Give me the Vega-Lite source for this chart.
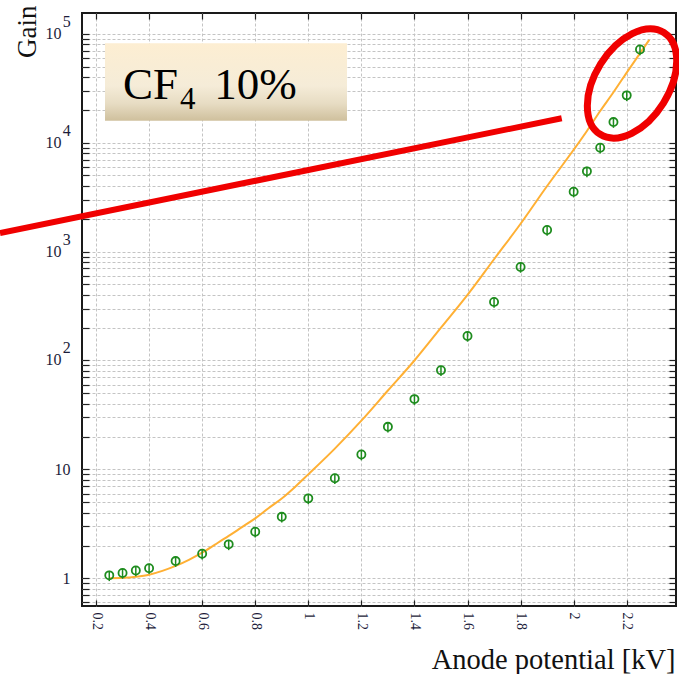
{
  "$schema": "https://vega.github.io/schema/vega-lite/v6.json",
  "width": 594,
  "height": 593,
  "autosize": "none",
  "padding": {"left": 82, "top": 13, "right": 3, "bottom": 68},
  "background": "white",
  "config": {
    "font": "Liberation Serif",
    "view": {"stroke": "#1a1a1a", "strokeWidth": 2},
    "axis": {"labelFont": "Liberation Serif", "titleFont": "Liberation Serif", "titleFontWeight": "normal", "labelColor": "#1c1c3a", "titleColor": "#111111"}
  },
  "datasets": {
    "fit": [
      {"kv": 0.25, "gain": 1.0}, {"kv": 0.3, "gain": 1.01}, {"kv": 0.35, "gain": 1.035}, {"kv": 0.4, "gain": 1.08},
      {"kv": 0.45, "gain": 1.17}, {"kv": 0.5, "gain": 1.3}, {"kv": 0.55, "gain": 1.48}, {"kv": 0.6, "gain": 1.72},
      {"kv": 0.65, "gain": 2.05}, {"kv": 0.7, "gain": 2.45}, {"kv": 0.75, "gain": 2.95}, {"kv": 0.8, "gain": 3.55},
      {"kv": 0.85, "gain": 4.4}, {"kv": 0.9, "gain": 5.4}, {"kv": 0.95, "gain": 6.9}, {"kv": 1.0, "gain": 9.0},
      {"kv": 1.1, "gain": 15.5}, {"kv": 1.2, "gain": 28}, {"kv": 1.3, "gain": 53}, {"kv": 1.4, "gain": 100},
      {"kv": 1.5, "gain": 200}, {"kv": 1.6, "gain": 400}, {"kv": 1.7, "gain": 850}, {"kv": 1.8, "gain": 1800},
      {"kv": 1.9, "gain": 4000}, {"kv": 2.0, "gain": 8600}, {"kv": 2.05, "gain": 12800}, {"kv": 2.1, "gain": 19500},
      {"kv": 2.15, "gain": 29000}, {"kv": 2.2, "gain": 44000}, {"kv": 2.285, "gain": 88000}
    ],
    "measured": [
      {"kv": 0.25, "gain": 1.065, "lo": 0.943, "hi": 1.172},
      {"kv": 0.3, "gain": 1.12, "lo": 0.991, "hi": 1.232},
      {"kv": 0.35, "gain": 1.18, "lo": 1.044, "hi": 1.298},
      {"kv": 0.4, "gain": 1.24, "lo": 1.097, "hi": 1.364},
      {"kv": 0.5, "gain": 1.44, "lo": 1.274, "hi": 1.584},
      {"kv": 0.6, "gain": 1.68, "lo": 1.487, "hi": 1.848},
      {"kv": 0.7, "gain": 2.05, "lo": 1.814, "hi": 2.255},
      {"kv": 0.8, "gain": 2.68, "lo": 2.372, "hi": 2.948},
      {"kv": 0.9, "gain": 3.67, "lo": 3.248, "hi": 4.037},
      {"kv": 1.0, "gain": 5.42, "lo": 4.797, "hi": 5.962},
      {"kv": 1.1, "gain": 8.3, "lo": 7.346, "hi": 9.13},
      {"kv": 1.2, "gain": 13.7, "lo": 12.12, "hi": 15.07},
      {"kv": 1.3, "gain": 24.6, "lo": 21.77, "hi": 27.06},
      {"kv": 1.4, "gain": 44.2, "lo": 39.12, "hi": 48.62},
      {"kv": 1.5, "gain": 81.5, "lo": 72.13, "hi": 89.65},
      {"kv": 1.6, "gain": 168, "lo": 148.7, "hi": 184.8},
      {"kv": 1.7, "gain": 345, "lo": 305.3, "hi": 379.5},
      {"kv": 1.8, "gain": 722, "lo": 639, "hi": 794},
      {"kv": 1.9, "gain": 1578, "lo": 1397, "hi": 1736},
      {"kv": 2.0, "gain": 3550, "lo": 3142, "hi": 3905},
      {"kv": 2.05, "gain": 5450, "lo": 4823, "hi": 5995},
      {"kv": 2.1, "gain": 8990, "lo": 7956, "hi": 9889},
      {"kv": 2.15, "gain": 15450, "lo": 13670, "hi": 17000},
      {"kv": 2.2, "gain": 27170, "lo": 24050, "hi": 29890},
      {"kv": 2.25, "gain": 71800, "lo": 63540, "hi": 78980}
    ],
    "decades": [
      {"gain": 100, "exp": "2"}, {"gain": 1000, "exp": "3"}, {"gain": 10000, "exp": "4"}, {"gain": 100000, "exp": "5"}
    ],
    "labelBox": [
      {"kv": 0.2339, "kv2": 1.1458, "gain": 81800, "gain2": 15920}
    ],
    "labelMain": [
      {"kv": 0.3018, "gain": 25180, "text": "CF"},
      {"kv": 0.6455, "gain": 25180, "text": "10%"}
    ],
    "labelSub": [
      {"kv": 0.5166, "gain": 20390, "text": "4"}
    ],
    "pointer": [
      {"kv": -0.1618, "gain": 1482, "kv2": 1.955, "gain2": 16750}
    ],
    "highlight": [
      {"kv": 2.22, "gain": 34960}
    ]
  },
  "resolve": {"axis": {"x": "independent", "y": "independent"}},
  "layer": [
    {
      "data": {"name": "fit"},
      "mark": {"type": "line", "color": "#ffb034", "strokeWidth": 2, "interpolate": "monotone"},
      "encoding": {
        "x": {
          "field": "kv", "type": "quantitative",
          "scale": {"domain": [0.1472, 2.3857], "nice": false, "zero": false},
          "axis": {
            "orient": "bottom",
            "values": [0.2, 0.4, 0.6, 0.8, 1.0, 1.2, 1.4, 1.6, 1.8, 2.0, 2.2],
            "format": "~g",
            "labelAngle": 90, "labelAlign": "left", "labelBaseline": "middle",
            "labelFontSize": 14, "labelPadding": 12,
            "tickSize": -6, "tickColor": "#222222", "tickWidth": 1.2,
            "grid": true, "gridColor": "#c4c4c4", "gridDash": [3, 2], "gridWidth": 1,
            "domain": false,
            "title": "Anode potential [kV]", "titleFontSize": 28.5,
            "titleAnchor": "end", "titleAlign": "right", "titleBaseline": "alphabetic",
            "titleX": 593, "titleY": 62
          }
        },
        "y": {
          "field": "gain", "type": "quantitative",
          "scale": {"type": "log", "domain": [0.557, 155000], "nice": false},
          "axis": {
            "orient": "left",
            "values": [0.6, 0.7, 0.8, 0.9, 1, 2, 3, 4, 5, 6, 7, 8, 9, 10, 20, 30, 40, 50, 60, 70, 80, 90, 100, 200, 300, 400, 500, 600, 700, 800, 900, 1000, 2000, 3000, 4000, 5000, 6000, 7000, 8000, 9000, 10000, 20000, 30000, 40000, 50000, 60000, 70000, 80000, 90000, 100000],
            "labelExpr": "datum.value == 1 ? '1' : datum.value == 10 ? '10' : ''",
            "labelFontSize": 16, "labelPadding": 19, "labelBaseline": "middle",
            "tickSize": -7, "tickColor": "#222222", "tickWidth": 1.2,
            "grid": true, "gridColor": "#c4c4c4", "gridDash": [3, 2], "gridWidth": 1,
            "domain": false,
            "title": "Gain", "titleFontSize": 27, "titleAngle": -90,
            "titleAlign": "right", "titleBaseline": "alphabetic",
            "titleX": -47, "titleY": -8
          }
        }
      }
    },
    {
      "data": {"name": "measured"},
      "mark": {"type": "rule", "color": "#1e8c1e", "strokeWidth": 1.5},
      "encoding": {
        "x": {"field": "kv", "type": "quantitative", "scale": {"domain": [0.1472, 2.3857], "nice": false, "zero": false}, "axis": null},
        "y": {"field": "lo", "type": "quantitative", "scale": {"type": "log", "domain": [0.557, 155000], "nice": false}, "axis": null},
        "y2": {"field": "hi"}
      }
    },
    {
      "data": {"name": "measured"},
      "mark": {"type": "point", "shape": "circle", "filled": false, "color": "#1e8c1e", "strokeWidth": 1.8, "size": 66, "opacity": 1},
      "encoding": {
        "x": {
          "field": "kv", "type": "quantitative",
          "scale": {"domain": [0.1472, 2.3857], "nice": false, "zero": false},
          "axis": {
            "orient": "top",
            "values": [0.2, 0.4, 0.6, 0.8, 1.0, 1.2, 1.4, 1.6, 1.8, 2.0, 2.2],
            "labels": false, "grid": false, "domain": false,
            "tickSize": -6, "tickColor": "#222222", "tickWidth": 1.2, "title": null
          }
        },
        "y": {
          "field": "gain", "type": "quantitative",
          "scale": {"type": "log", "domain": [0.557, 155000], "nice": false},
          "axis": {
            "orient": "right",
            "values": [0.6, 0.7, 0.8, 0.9, 1, 2, 3, 4, 5, 6, 7, 8, 9, 10, 20, 30, 40, 50, 60, 70, 80, 90, 100, 200, 300, 400, 500, 600, 700, 800, 900, 1000, 2000, 3000, 4000, 5000, 6000, 7000, 8000, 9000, 10000, 20000, 30000, 40000, 50000, 60000, 70000, 80000, 90000, 100000],
            "labels": false, "grid": false, "domain": false,
            "tickSize": -7, "tickColor": "#222222", "tickWidth": 1.2, "title": null
          }
        }
      }
    },
    {
      "data": {"name": "decades"},
      "mark": {"type": "text", "text": "10", "align": "right", "baseline": "middle", "dx": -20.5, "fontSize": 16, "color": "#1c1c3a", "clip": false},
      "encoding": {
        "x": {"datum": 0.1472, "type": "quantitative", "scale": {"domain": [0.1472, 2.3857], "nice": false, "zero": false}, "axis": null},
        "y": {"field": "gain", "type": "quantitative", "scale": {"type": "log", "domain": [0.557, 155000], "nice": false}, "axis": null}
      }
    },
    {
      "data": {"name": "decades"},
      "mark": {"type": "text", "align": "right", "baseline": "middle", "dx": -11.3, "dy": -12, "fontSize": 16, "color": "#1c1c3a", "clip": false},
      "encoding": {
        "x": {"datum": 0.1472, "type": "quantitative", "scale": {"domain": [0.1472, 2.3857], "nice": false, "zero": false}, "axis": null},
        "y": {"field": "gain", "type": "quantitative", "scale": {"type": "log", "domain": [0.557, 155000], "nice": false}, "axis": null},
        "text": {"field": "exp"}
      }
    },
    {
      "data": {"name": "labelBox"},
      "mark": {
        "type": "rect",
        "clip": false,
        "fill": {
          "gradient": "linear", "x1": 0, "y1": 0, "x2": 0, "y2": 1,
          "stops": [
            {"offset": 0, "color": "#fdeed2"},
            {"offset": 0.55, "color": "#f5ecd8"},
            {"offset": 0.78, "color": "#e7dcc3"},
            {"offset": 1, "color": "#cfc09d"}
          ]
        }
      },
      "encoding": {
        "x": {"field": "kv", "type": "quantitative", "scale": {"domain": [0.1472, 2.3857], "nice": false, "zero": false}, "axis": null},
        "x2": {"field": "kv2"},
        "y": {"field": "gain", "type": "quantitative", "scale": {"type": "log", "domain": [0.557, 155000], "nice": false}, "axis": null},
        "y2": {"field": "gain2"}
      }
    },
    {
      "data": {"name": "labelMain"},
      "mark": {"type": "text", "align": "left", "baseline": "alphabetic", "fontSize": 45, "color": "#000000", "clip": false},
      "encoding": {
        "x": {"field": "kv", "type": "quantitative", "scale": {"domain": [0.1472, 2.3857], "nice": false, "zero": false}, "axis": null},
        "y": {"field": "gain", "type": "quantitative", "scale": {"type": "log", "domain": [0.557, 155000], "nice": false}, "axis": null},
        "text": {"field": "text"}
      }
    },
    {
      "data": {"name": "labelSub"},
      "mark": {"type": "text", "align": "left", "baseline": "alphabetic", "fontSize": 31, "color": "#000000", "clip": false},
      "encoding": {
        "x": {"field": "kv", "type": "quantitative", "scale": {"domain": [0.1472, 2.3857], "nice": false, "zero": false}, "axis": null},
        "y": {"field": "gain", "type": "quantitative", "scale": {"type": "log", "domain": [0.557, 155000], "nice": false}, "axis": null},
        "text": {"field": "text"}
      }
    },
    {
      "data": {"name": "pointer"},
      "mark": {"type": "rule", "color": "#f00000", "strokeWidth": 6, "strokeCap": "butt", "clip": false},
      "encoding": {
        "x": {"field": "kv", "type": "quantitative", "scale": {"domain": [0.1472, 2.3857], "nice": false, "zero": false}, "axis": null},
        "x2": {"field": "kv2"},
        "y": {"field": "gain", "type": "quantitative", "scale": {"type": "log", "domain": [0.557, 155000], "nice": false}, "axis": null},
        "y2": {"field": "gain2"}
      }
    },
    {
      "data": {"name": "highlight"},
      "mark": {
        "type": "point",
        "shape": "M -1 0 A 1 0.617 0 1 1 1 0 A 1 0.617 0 1 1 -1 0 Z",
        "size": 14400, "angle": 302,
        "filled": false, "stroke": "#f00000", "strokeWidth": 7, "opacity": 1, "clip": false
      },
      "encoding": {
        "x": {"field": "kv", "type": "quantitative", "scale": {"domain": [0.1472, 2.3857], "nice": false, "zero": false}, "axis": null},
        "y": {"field": "gain", "type": "quantitative", "scale": {"type": "log", "domain": [0.557, 155000], "nice": false}, "axis": null}
      }
    }
  ]
}
